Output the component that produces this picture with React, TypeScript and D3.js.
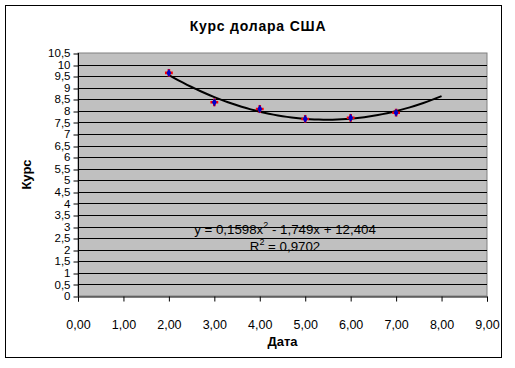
import { useEffect, useRef } from "react";
import * as d3 from "d3";

const dates = [2, 3, 4, 5, 6, 7];
const rates = [9.64, 8.37, 8.08, 7.65, 7.7, 7.92];
// коефіцієнти лінії тренду з підпису на графіку: a*x^2 + b*x + c
const trendCoef = [0.1598, -1.749, 12.404];
const trendRange = [2, 8];
const xTicks = [0, 1, 2, 3, 4, 5, 6, 7, 8, 9];
const yTicks = d3.range(0, 22).map((i) => i * 0.5);

const W = 515;
const H = 368;

export default function App() {
  const svgRef = useRef<SVGSVGElement>(null);

  useEffect(() => {
    if (!svgRef.current) return;
    const svg = d3.select(svgRef.current);
    svg.selectAll("*").remove();
    const font = "'Liberation Sans', Arial, sans-serif";

    svg.append("rect").attr("width", W).attr("height", H).attr("fill", "#fff");
    svg
      .append("rect")
      .attr("x", 5.5)
      .attr("y", 5.5)
      .attr("width", 496)
      .attr("height", 352)
      .attr("fill", "none")
      .attr("stroke", "#000");

    const pl = { left: 78, right: 487, top: 53, bottom: 296 };
    const x = d3.scaleLinear().domain([0, 9]).range([pl.left, pl.right]);
    const y = d3.scaleLinear().domain([0, 10.5]).range([pl.bottom, pl.top]);

    svg
      .append("rect")
      .attr("x", pl.left)
      .attr("y", pl.top)
      .attr("width", pl.right - pl.left)
      .attr("height", pl.bottom - pl.top)
      .attr("fill", "#C0C0C0")
      .attr("stroke", "#808080")
      .attr("stroke-width", 1);

    // горизонтальні лінії сітки
    svg
      .append("g")
      .selectAll("line")
      .data(yTicks.filter((v) => v > 0 && v < 10.5))
      .enter()
      .append("line")
      .attr("x1", pl.left)
      .attr("x2", pl.right)
      .attr("y1", (d) => Math.round(y(d)) + 0.5)
      .attr("y2", (d) => Math.round(y(d)) + 0.5)
      .attr("stroke", "#000");

    const yAxis = svg
      .append("g")
      .attr("transform", `translate(${pl.left + 0.5},0)`)
      .call(
        d3
          .axisLeft(y)
          .tickValues(yTicks)
          .tickSize(5)
          .tickPadding(3)
          .tickFormat((d) => d3.format("~")(+d).replace(".", ","))
      );
    yAxis.select(".domain").attr("d", `M0,${pl.top}V${pl.bottom + 0.5}`);
    yAxis.selectAll(".tick line").attr("transform", (d: any) => `translate(0,${Math.round(y(d)) + 0.5 - y(d)})`);
    yAxis.selectAll("text").attr("font-family", font).attr("font-size", 11.5).attr("fill", "#000");

    const xAxis = svg
      .append("g")
      .attr("transform", `translate(0,${pl.bottom + 0.5})`)
      .call(
        d3
          .axisBottom(x)
          .tickValues(xTicks)
          .tickSize(5)
          .tickPadding(19)
          .tickFormat((d) => d3.format(".2f")(+d).replace(".", ","))
      );
    xAxis.selectAll("text").attr("font-family", font).attr("font-size", 12.5).attr("fill", "#000");

    // лінія тренду
    const trend = (v: number) => trendCoef[0] * v * v + trendCoef[1] * v + trendCoef[2];
    const xs = d3.range(trendRange[0], trendRange[1] + 0.001, 0.1);
    svg
      .append("path")
      .datum(xs)
      .attr(
        "d",
        d3
          .line<number>()
          .x((d) => x(d))
          .y((d) => y(trend(d)))
      )
      .attr("fill", "none")
      .attr("stroke", "#000")
      .attr("stroke-width", 2);

    const pts = dates.map((d, i) => ({ d, v: rates[i] }));
    const g = svg.append("g");
    g.selectAll("path.cross")
      .data(pts)
      .enter()
      .append("path")
      .attr("class", "cross")
      .attr("d", d3.symbol(d3.symbolCross, 34)())
      .attr("transform", (p) => `translate(${x(p.d)},${y(p.v)})`)
      .attr("fill", "#FF0000");
    g.selectAll("path.diamond")
      .data(pts)
      .enter()
      .append("path")
      .attr("class", "diamond")
      .attr("d", d3.symbol(d3.symbolDiamond, 20)())
      .attr("transform", (p) => `translate(${x(p.d)},${y(p.v)})`)
      .attr("fill", "#0000CC");

    svg
      .append("text")
      .attr("x", 258)
      .attr("y", 31)
      .attr("text-anchor", "middle")
      .attr("font-family", font)
      .attr("font-size", 14)
      .attr("font-weight", 700)
      .attr("letter-spacing", 0.8)
      .text("Курс долара США");

    svg
      .append("text")
      .attr("x", (pl.left + pl.right) / 2)
      .attr("y", 346)
      .attr("text-anchor", "middle")
      .attr("font-family", font)
      .attr("font-size", 13)
      .attr("font-weight", 700)
      .text("Дата");

    svg
      .append("text")
      .attr("transform", `translate(31,${(pl.top + pl.bottom) / 2}) rotate(-90)`)
      .attr("text-anchor", "middle")
      .attr("font-family", font)
      .attr("font-size", 13)
      .attr("font-weight", 700)
      .text("Курс");

    const eq = svg
      .append("text")
      .attr("x", 285)
      .attr("y", 234)
      .attr("text-anchor", "middle")
      .attr("font-family", font)
      .attr("font-size", 13.3);
    eq.append("tspan").text("y = 0,1598x");
    eq.append("tspan").attr("dy", -6).attr("font-size", 9).text("2");
    eq.append("tspan").attr("dy", 6).text(" - 1,749x + 12,404");

    const r2 = svg
      .append("text")
      .attr("x", 285)
      .attr("y", 251)
      .attr("text-anchor", "middle")
      .attr("font-family", font)
      .attr("font-size", 13.3);
    r2.append("tspan").text("R");
    r2.append("tspan").attr("dy", -6).attr("font-size", 9).text("2");
    r2.append("tspan").attr("dy", 6).text(" = 0,9702");
  }, []);

  return (
    <svg
      ref={svgRef}
      width={W}
      height={H}
      style={{ position: "absolute", left: 0, top: 0, display: "block" }}
    />
  );
}
